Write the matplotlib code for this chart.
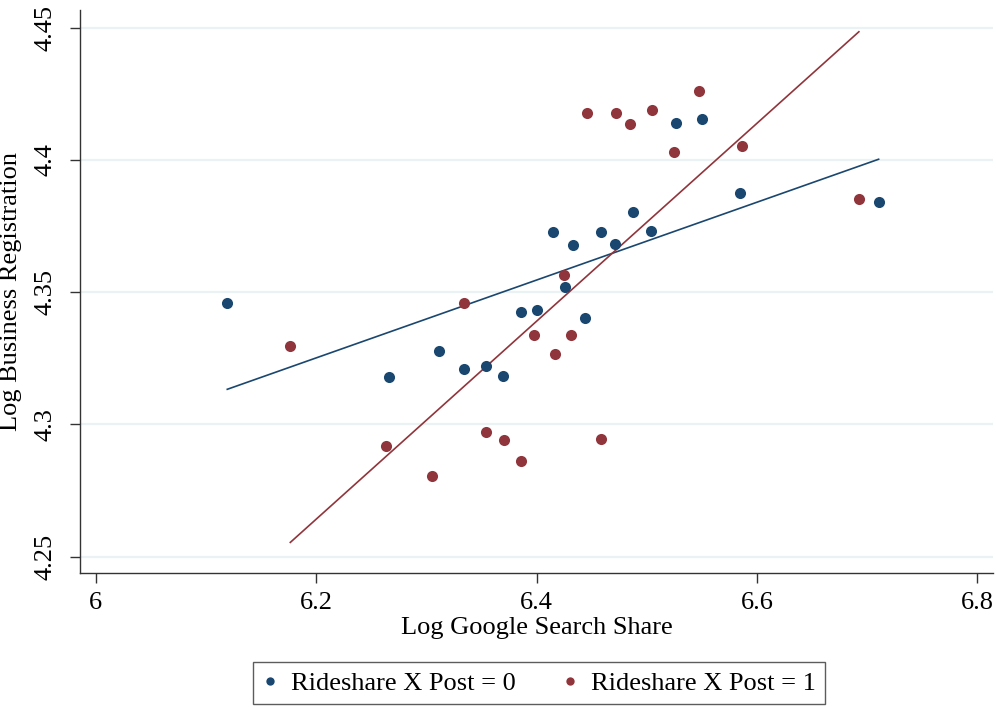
import matplotlib.pyplot as plt
import numpy as np

# binned scatter
x_post0 = [6.1193, 6.2664, 6.3115, 6.3345, 6.3542, 6.3699, 6.3857, 6.4002, 6.4144, 6.4329,
           6.4256, 6.4435, 6.4580, 6.4708, 6.4874, 6.5041, 6.5262, 6.5500, 6.5846, 6.7103]
y_post0 = [4.3458, 4.3180, 4.3277, 4.3211, 4.3220, 4.3184, 4.3424, 4.3433, 4.3726, 4.3677,
           4.3519, 4.3402, 4.3726, 4.3682, 4.3804, 4.3730, 4.4139, 4.4154, 4.3874, 4.3840]
x_post1 = [6.1765, 6.2634, 6.3052, 6.3345, 6.3545, 6.3700, 6.3857, 6.3980, 6.4163, 6.4245,
           6.4308, 6.4580, 6.4456, 6.4717, 6.4844, 6.5050, 6.5250, 6.5470, 6.5867, 6.6924]
y_post1 = [4.3298, 4.2919, 4.2805, 4.3460, 4.2970, 4.2940, 4.2862, 4.3338, 4.3267, 4.3564,
           4.3337, 4.2945, 4.4178, 4.4178, 4.4135, 4.4188, 4.4029, 4.4262, 4.4053, 4.3851]

# linear fit lines (intercept, slope)
fit_post0 = (3.4125, 0.1472)
fit_post1 = (1.9435, 0.3743)

xticks = [6, 6.2, 6.4, 6.6, 6.8]
yticks = [4.25, 4.3, 4.35, 4.4, 4.45]

navy = '#1a476f'
maroon = '#90353b'

plt.rcParams['font.family'] = ['Liberation Serif', 'DejaVu Serif']
plt.rcParams['font.size'] = 19

fig = plt.figure(figsize=(9.98, 7.08), dpi=100)
ax = fig.add_axes([0.0802, 0.1907, 0.9148, 0.7952])

for y in yticks:
    ax.axhline(y, color='#eaf2f3', lw=1.6, zorder=0)

ax.plot(x_post0, y_post0, 'o', color=navy, ms=8, mec='none', label='Rideshare X Post = 0', zorder=3)
ax.plot(x_post1, y_post1, 'o', color=maroon, ms=8, mec='none', label='Rideshare X Post = 1', zorder=3)

# fitted lines over each group's x range
for xs, (a, b), c in [(x_post0, fit_post0, navy), (x_post1, fit_post1, maroon)]:
    xx = np.array([min(xs), max(xs)])
    ax.plot(xx, a + b * xx, color=c, lw=1.2, zorder=2)

ax.set_xlim(5.9857, 6.8141)
ax.set_ylim(4.2438, 4.4567)
ax.set_xticks(xticks)
ax.set_xticklabels(['6', '6.2', '6.4', '6.6', '6.8'])
ax.set_yticks(yticks)
ax.set_yticklabels(['4.25', '4.3', '4.35', '4.4', '4.45'])

for s in ['top', 'right']:
    ax.spines[s].set_visible(False)
for s in ['left', 'bottom']:
    ax.spines[s].set_color('#333333')
    ax.spines[s].set_linewidth(1.0)

ax.tick_params(axis='both', length=7, width=1.0, color='#333333', direction='out')
ax.tick_params(axis='x', pad=7)
ax.tick_params(axis='y', pad=10, labelrotation=90)
for lab in ax.get_yticklabels():
    lab.set_va('center')

ax.set_xlabel('Log Google Search Share', labelpad=2)
ax.set_ylabel('Log Business Registration')
ax.yaxis.set_label_coords(-0.064, 0.5)

leg = fig.legend(loc='center', bbox_to_anchor=(0.540, 0.0353), ncol=2, frameon=True,
                 fancybox=False, edgecolor='#333333', markerscale=0.75,
                 handletextpad=0.5, columnspacing=1.75, borderpad=0.35, handlelength=0.6)
leg.get_frame().set_linewidth(1.0)

fig.savefig('out.png', dpi=100)
